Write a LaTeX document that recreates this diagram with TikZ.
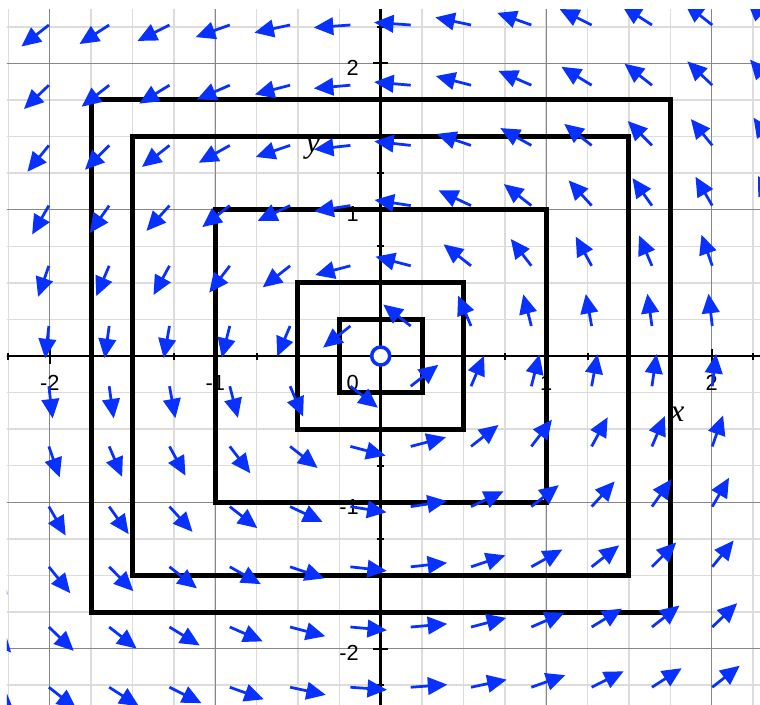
\documentclass[tikz,border=0pt]{standalone}
\usepackage{fontspec}
\setmainfont{Liberation Sans}
\newfontfamily\varfont{Liberation Serif}
\usetikzlibrary{arrows.meta}
\definecolor{fieldblue}{RGB}{8,48,255}
\definecolor{majorgrid}{RGB}{135,135,135}
\definecolor{minorgrid}{RGB}{220,220,220}
\tikzset{
  minorline/.style={minorgrid, line width=0.3mm},
  majorline/.style={majorgrid, line width=0.2mm},
  axisline/.style={black, line width=0.5mm},
  orbit/.style={black, line width=1mm, line join=miter},
  field/.style={fieldblue, line width=0.55mm, -{Triangle[length=3.9mm,width=3.5mm]}},
  xlab/.style={font=\fontsize{12.4}{14}\selectfont, inner sep=0pt, anchor=base, yshift=-6.8mm},
  ylab/.style={font=\fontsize{12.4}{14}\selectfont, inner sep=0pt, anchor=base east, xshift=-4.3mm, yshift=-2.4mm},
  varlab/.style={font=\fontsize{18}{20}\varfont\itshape, inner sep=0pt, anchor=base},
}
\begin{document}
\begin{tikzpicture}[x=3.31cm, y=2.926cm]
  \fill[white] (-2.3003,-2.3787) rectangle (2.2918,2.4334);
  \useasboundingbox (-2.3003,-2.3787) rectangle (2.2918,2.4334);
  \begin{scope}
    \clip (-2.258,-2.3787) rectangle (2.2918,2.3651);
    % grid
    \foreach \k in {-9,...,9} {
      \draw[minorline] (\k/4,-2.5) -- (\k/4,2.5);
      \draw[minorline] (-2.5,\k/4) -- (2.5,\k/4);
    }
    \foreach \k in {-2,...,2} {
      \draw[majorline] (\k,-2.5) -- (\k,2.5);
      \draw[majorline] (-2.5,\k) -- (2.5,\k);
    }
    % axes and ticks
    \draw[axisline] (-2.5,0) -- (2.5,0);
    \draw[axisline] (0,-2.5) -- (0,2.5);
    \foreach \k in {-9,...,9} {
      \draw[black, line width=0.4mm] ([yshift=-0.7mm]\k/4,0) -- ([yshift=0.7mm]\k/4,0);
      \draw[black, line width=0.4mm] ([xshift=-0.7mm]0,\k/4) -- ([xshift=0.7mm]0,\k/4);
    }
    \foreach \k in {-2,-1,1,2} {
      \draw[black, line width=0.4mm] ([yshift=-1.5mm]\k,0) -- ([yshift=1.5mm]\k,0);
      \draw[black, line width=0.4mm] ([xshift=-1.5mm]0,\k) -- ([xshift=1.5mm]0,\k);
    }
    % labels
    \draw
      (-2,0) node[xlab] (xm2) {-2}
      (-1,0) node[xlab] (xm1) {-1}
      (1,0) node[xlab] (xp1) {1}
      (2,0) node[xlab] (xp2) {2}
      (0,2) node[ylab] (yp2) {2}
      (0,1) node[ylab] (yp1) {1}
      (0,-1) node[ylab] (ym1) {-1}
      (0,-2) node[ylab] (ym2) {-2}
      (0,0) node[ylab, yshift=-4.4mm] (zero) {0};
    \node[varlab] (xname) at (1.793,-0.451) {x};
    \node[varlab] (yname) at (-0.41,1.388) {y};
    % closed orbits
    \foreach \s in {1.75,1.5,1,0.5,0.25}
      \draw[orbit] (-\s,-\s) rectangle (\s,\s);
    % direction field
    \foreach \i in {-1,...,12} {
      \foreach \j in {0,...,11} {
        \pgfmathsetmacro\px{-2.005+0.3644*\i}
        \pgfmathsetmacro\py{2.2625-0.4115*\j}
        \pgfmathsetmacro\r{sqrt(\px*\px+\py*\py)}
        \draw[field] (\px,\py) -- ++({-0.222*\py/\r},{0.222*\px/\r});
      }
    }
    \node[draw=fieldblue, circle, fill=white, line width=0.7mm,
      minimum size=3.6mm, inner sep=0pt] (origin) at (0,0) {};
  \end{scope}
\end{tikzpicture}
\end{document}
